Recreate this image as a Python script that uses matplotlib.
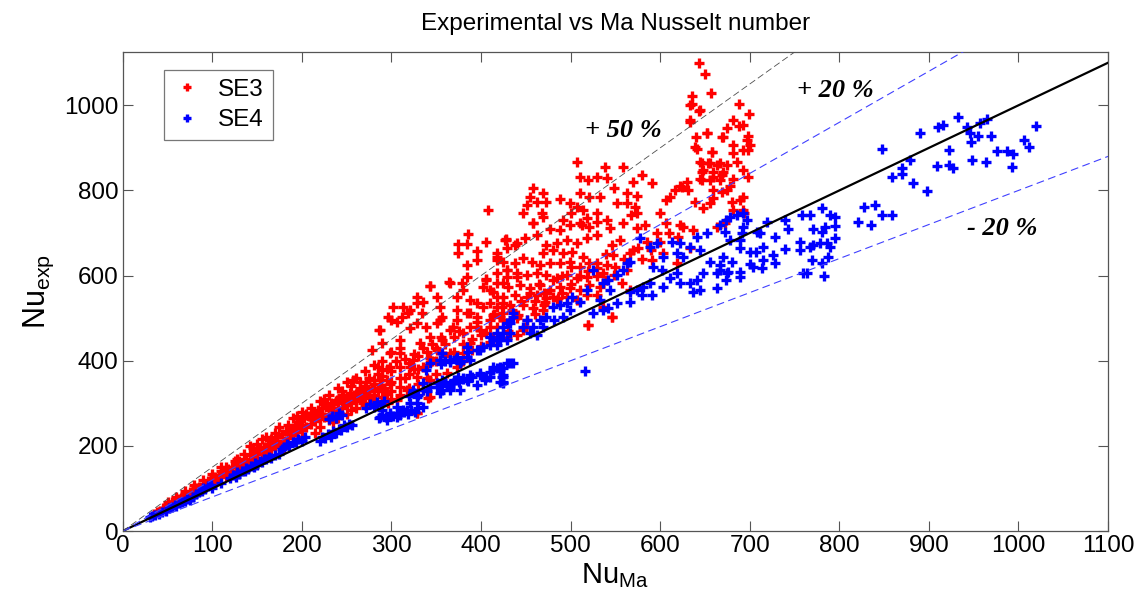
import matplotlib
matplotlib.use("Agg")
import matplotlib.pyplot as plt
import numpy as np

plt.rcParams['font.family'] = ['Liberation Sans', 'DejaVu Sans']
plt.rcParams['mathtext.fontset'] = 'custom'
plt.rcParams['mathtext.rm'] = 'Liberation Sans'
plt.rcParams['mathtext.it'] = 'Liberation Sans'

# ---------------- data: SE3 (red) ----------------
se3_band = [
    (35,40),(38,45),(42,48),(45,55),(48,52),(50,60),(53,62),(55,68),(58,70),(60,66),(62,75),(65,78),
    (68,80),(70,88),(72,84),(75,92),(78,95),(80,90),(82,100),(85,104),(88,98),(90,110),(92,106),(95,118),
    (98,112),(100,122),(102,128),(105,118),(108,132),(110,126),(112,138),(115,130),(118,145),(120,140),
    (122,150),(125,135),(128,155),(130,148),(132,160),(135,152),(138,170),(140,160),(142,178),(145,165),
    (148,185),(150,172),(152,190),(155,180),(158,198),(160,185),(162,205),(165,192),(168,210),(170,198),
    (172,220),(175,205),(178,228),(180,212),(182,235),(185,218),(188,240),(190,225),(192,250),(195,232),
    (198,258),(200,238),(202,265),(205,245),(208,270),(210,252),(212,278),(215,258),(218,285),(220,262),
    (222,290),(225,268),(228,295),(230,275),(232,300),(235,280),(238,305),(240,285),(242,310),(245,290),
    (248,300),(250,295),(252,315),(255,300),(258,320),(260,305),(262,325),(265,310),(268,300),(270,318),
    (272,330),(275,312),(278,335),(280,320),(282,305),(285,328),(288,340),(290,315),(292,335),(295,322),
    (298,345),(300,330),(100,112),(110,140),(120,130),(130,165),(140,150),(150,195),(160,175),(170,212),
    (180,195),(190,240),(200,220),(210,265),(220,245),(230,260),(240,265),(250,275),(260,290),(270,295),
    (280,300),(290,305),(300,310),(150,205),(165,215),(185,250),(205,275),(225,300),(245,320),(265,335),
    (280,345),(215,230),(235,255),(255,285),(275,330),(295,355),(310,320),(320,335),(330,345),(340,360),
    (350,370),(315,360),(325,380),(345,400),(142,200),(155,215),(175,245),(195,270),(128,170),(115,150),
]
se3_fill = [
    (200,280),(210,290),(220,305),(230,320),(240,335),(250,350),(260,360),(270,375),(280,390),(290,400),
    (300,420),(310,430),(265,350),(285,370),(305,400),(245,330),(225,310),(200,250),(210,262),(220,275),
    (230,285),(240,300),(250,310),(260,322),(270,340),(280,355),(290,365),(300,375),(310,385),(320,395),
    (330,410),(340,420),(300,350),(310,360),(320,370),(330,380),(340,390),(350,400),(360,410),(370,420),
    (350,430),(360,440),(370,455),(380,440),(390,450),(400,460),(390,425),(400,435),(410,445),(380,400),
    (255,340),(275,360),(295,380),(315,405),(335,430),(355,455),(375,470),(395,490),(415,510),(435,520),
    (445,540),(455,560),(465,580),(440,500),(430,470),(450,480),(460,510),(470,530),(480,550),(490,560),
    (500,580),(510,600),(520,610),(530,630),(540,650),(500,620),(490,600),(480,590),(470,560),(460,540),
    (185,230),(195,245),(215,270),(235,290),(255,318),(190,265),(170,230),(160,220),(145,195),(135,180),
    (125,165),(110,150),(100,135),(90,120),(80,108),(70,95),(60,80),(50,68),(285,385),(325,415),(345,440),
    (580,640),(590,660),(600,680),(610,700),(620,690),(560,640),(570,660),(550,620),(530,600),(540,590),
]
se3_mid = [
    (287,472),(278,425),(289,441),(298,418),(300,495),(302,526),(312,502),(321,519),(321,476),(309,448),
    (309,418),(290,378),(298,385),(287,354),(272,350),(257,354),(268,331),(254,324),(246,315),(239,307),
    (231,291),(321,385),(328,361),(324,401),(335,385),(343,406),(332,441),(343,455),(351,425),(357,448),
    (365,472),(373,495),(380,465),(388,441),(365,418),(354,495),(388,512),(402,526),(410,495),(418,526),
    (406,465),(395,479),(380,418),(373,385),(362,371),(343,354),(343,315),(328,277),(335,331),(317,331),
    (309,338),(306,307),(296,300),(424,512),(286,472),(296,502),(306,491),(313,526),(318,512),(328,549),
    (329,535),(335,537),(343,575),(334,512),(328,488),(339,479),(351,549),(354,526),(365,582),(357,502),
    (373,549),(380,566),(388,542),(373,519),(384,512),(395,535),(402,573),(410,566),(418,549),(424,535),
    (406,589),(418,636),(427,683),(429,613),(395,502),(388,479),(369,479),(351,488),(399,472),(410,479),
    (421,502),(429,488),(341,312),(328,277),(519,483),(546,502),
]
se3_upper = [
    (408,753),(385,697),(374,674),(374,652),(384,674),(395,657),(406,678),(428,685),(429,664),(418,643),
    (396,636),(384,624),(429,613),(440,676),(440,596),(343,575),(364,584),(384,596),(406,591),(379,582),
    (424,582),
    (458,723),(477,709),(488,706),(499,718),(510,723),(521,714),(529,695),(544,711),(558,723),(574,711),
    (583,718),(596,699),(607,723),(625,714),(428,683),(438,671),(449,688),(462,695),(473,671),(485,676),
    (496,683),(507,676),(518,688),(469,652),(480,659),(491,652),(502,655),(514,643),(418,652),(424,631),
    (438,629),(447,641),(457,631),(466,624),(477,629),(488,629),(499,631),(510,620),(521,629),(546,671),
    (555,683),(566,652),(575,664),(585,678),(547,648),(591,636),(603,652),(619,629),(563,613),(541,624),
    (529,617),(418,606),(429,596),(440,606),(451,601),(462,606),(473,601),(485,594),(496,601),(507,594),
    (518,596),(536,606),(549,601),(418,582),(430,573),(443,577),(455,570),(466,577),(477,566),(488,573),
    (499,570),(510,566),(521,577),(533,573),(557,582),(566,566),(413,561),(424,549),(438,554),(451,549),
    (462,554),(473,547),(485,542),(496,549),(507,542),(518,554),(529,554),(410,535),(423,526),(432,530),
    (447,530),(458,523),(471,537),(486,547),(536,526),(413,507),(424,495),(441,507),(451,495),(469,519),
    (546,502),(519,483),(418,479),(440,460),(447,472),(413,455),(429,453),
]
se3_top = [
    (643,1099),(650,1073),(657,1028),(636,1021),(633,1000),(643,986),(633,962),(652,936),(640,925),(669,925),
    (641,897),(658,890),(647,864),(653,864),(663,859),(647,843),(647,824),(659,831),(669,836),(631,800),
    (624,807),(617,800),(611,784),(607,777),(659,800),(656,770),(507,868),(510,831),(520,824),(529,831),
    (538,854),(541,829),(558,854),(570,821),(580,836),(591,817),(548,805),(563,793),(574,786),(510,793),
    (521,784),(533,784),(458,805),(455,784),(469,793),(473,772),(488,781),(463,772),(451,765),(447,746),
    (468,746),(469,737),(458,723),(499,770),(507,760),(501,746),(514,753),(518,735),(529,746),(530,725),
    (552,770),(563,770),(572,760),(568,742),(574,746),(600,746),(541,730),(491,730),(513,718),
    (636,1004),(644,988),(633,965),(688,1002),(699,979),(681,965),(692,953),(688,951),(675,946),(652,936),
    (698,929),(697,918),(670,925),(700,906),(681,906),(639,901),(658,890),(681,887),(692,894),(698,894),
    (644,866),(656,864),(667,864),(675,859),(686,866),(648,847),(659,843),(670,843),(692,847),(644,826),
    (656,824),(667,824),(681,828),(698,831),(630,819),(622,810),(678,810),(675,800),(669,796),(659,782),
    (692,784),(689,777),(639,772),(648,758),(680,772),(681,753),(692,753),(694,746),(622,718),(637,706),
    (663,713),(672,723),(633,664),
]

# ---------------- data: SE4 (blue) ----------------
se4_band = [
    (30,32),(33,35),(36,38),(40,40),(44,45),(48,47),(52,55),(55,56),(58,62),(60,58),(63,66),(66,68),
    (70,70),(72,75),(75,72),(78,80),(82,88),(85,92),(88,95),(90,100),(92,98),(95,105),(98,108),(100,102),
    (110,112),(120,125),(123,132),(126,128),(128,138),(130,135),(133,142),(136,140),(138,148),(140,145),
    (143,152),(146,150),(148,160),(150,155),(153,165),(156,162),(158,170),(160,168),(163,175),(166,172),
    (170,178),(174,182),(178,192),(180,198),(183,204),(186,200),(190,210),(193,208),(196,215),(200,212),
    (203,220),(220,212),(223,222),(226,218),(229,228),(232,222),(235,235),(238,230),(241,240),(244,238),
    (247,248),(250,245),(253,252),(256,250),(230,262),(234,270),(238,266),(242,278),(245,272),(272,290),
    (276,298),(280,292),(284,302),(288,296),(292,305),(286,265),(290,272),(294,268),(298,276),(302,270),
    (306,278),(310,272),(314,280),(318,276),(322,285),(326,280),(330,290),(320,318),(325,325),(330,320),
    (335,332),(340,328),(355,340),(360,350),(365,345),(370,355),(375,350),(380,358),(385,352),(355,392),
    (360,400),(365,396),(372,405),(378,400),(384,408),(388,402),
]
se4_mid = [
    (410,455),(418,448),(424,465),(402,432),(395,425),(385,420),(373,408),(365,401),(354,401),(356,418),
    (343,394),(339,378),(335,347),(324,331),(328,315),(321,300),(317,284),
    (351,347),(357,331),(365,338),(373,354),(380,359),(388,366),(399,371),(406,361),(413,385),(421,378),
    (424,361),(424,347),(343,338),(328,300),(335,291),(313,284),(306,268),(298,277),(290,284),(287,268),
    (295,261),(306,291),(351,338),(357,354),(369,347),(374,361),(384,354),(390,361),(399,366),(404,354),
    (410,361),(413,378),(421,385),(429,394),(436,394),(424,366),(421,350),(395,343),(376,331),(365,331),
    (354,324),(516,376),(432,394),(424,383),(418,383),(410,373),(423,361),(424,350),
    (384,432),(399,425),(410,437),(421,448),(418,465),(429,488),(436,512),(354,401),(365,401),(376,394),
]
se4_upper = [
    (667,718),(652,699),(641,690),(633,667),(622,676),(613,678),(596,676),(589,667),(603,643),(619,652),
    (625,643),(644,659),(656,631),(667,624),(675,606),(663,606),(648,606),(641,589),(633,582),(637,561),
    (644,566),(663,570),(619,606),(622,582),(611,594),(602,613),(592,620),(603,573),(589,582),(581,573),
    (574,566),(566,561),(591,554),(580,554),(566,537),(552,535),(542,523),(536,519),(525,512),(566,631),
    (558,613),(552,601),(542,589),(536,582),(544,566),(533,542),(525,613),(518,566),(510,537),(502,549),
    (496,535),(488,530),(480,526),(499,519),(491,502),(482,495),(473,502),(466,495),(469,479),(458,479),
    (451,495),(447,479),(455,465),(462,460),(436,502),(432,488),(424,479),(432,465),(421,455),(429,448),
    (413,448),(418,437),(577,688),(563,629),
]
se4_right = [
    (848,897),(890,934),(910,948),(916,953),(932,972),(943,948),(957,958),(965,969),(946,936),(955,929),
    (969,927),(947,913),(922,894),(976,892),(987,892),(994,885),(993,854),(1006,918),(1012,901),(1020,951),
    (964,866),(948,871),(922,859),(927,852),(909,857),(879,871),(870,852),(870,838),(859,831),(882,817),
    (898,798),(828,761),(840,765),(848,742),(859,742),(821,725),(835,720),(795,737),(795,716),(790,742),
    (781,758),(784,713),(781,702),(771,709),(795,688),(786,676),(778,676),(771,671),(767,667),(790,667),
    (756,678),(756,659),(769,636),(787,643),(781,629),(760,606),(764,606),(783,599),(767,742),(758,742),
    (739,730),(743,709),(728,690),(719,725),(739,662),(726,648),(728,629),(715,636),(715,667),(707,655),
    (700,655),(689,664),(689,683),(691,699),(678,683),(672,702),(708,702),(711,699),(704,620),(700,627),
    (689,608),(689,596),(676,608),(674,589),(667,613),(670,643),(680,631),(678,737),(686,742),(692,746),
    (697,730),(674,730),(692,713),(714,617),
]

se3 = np.array(se3_band + se3_fill + se3_mid + se3_upper + se3_top, dtype=float)
se4 = np.array(se4_band + se4_mid + se4_upper + se4_right, dtype=float)

x_ticks = list(range(0, 1101, 100))
y_ticks = list(range(0, 1001, 200))
ref_x = [0, 1100]

fig = plt.figure(figsize=(11.47, 5.99), dpi=100)
ax = fig.add_axes([0.107, 0.1135, 0.859, 0.7995])

ax.plot(se3[:, 0], se3[:, 1], linestyle='none', marker='+', ms=6.5, mew=2.4,
        color=(1, 0, 0), label='SE3', zorder=3)
ax.plot(se4[:, 0], se4[:, 1], linestyle='none', marker='+', ms=6.5, mew=2.4,
        color=(0, 0, 1), label='SE4', zorder=4)

rx = np.array(ref_x, dtype=float)
ax.plot(rx, rx, color='black', lw=1.6, zorder=5)
ax.plot(rx, 1.2 * rx, color=(0.25, 0.25, 1), lw=0.8, dashes=(7, 4), zorder=5)
ax.plot(rx, 0.8 * rx, color=(0.25, 0.25, 1), lw=0.8, dashes=(7, 4), zorder=5)
ax.plot(rx, 1.5 * rx, color=(0.3, 0.3, 0.3), lw=0.6, dashes=(8, 4), zorder=5)

ax.set_xlim(0, 1100)
ax.set_ylim(0, 1125)
ax.set_xticks(x_ticks)
ax.set_yticks(y_ticks)
ax.tick_params(direction='in', length=7, width=0.8, top=True, right=True,
               labelsize=17.5, color='#555555', pad=3)
for s in ax.spines.values():
    s.set_color('#555555')
    s.set_linewidth(0.9)

ax.set_title('Experimental vs Ma Nusselt number', fontsize=17.5, pad=16)
ax.set_xlabel(r'$\mathrm{Nu}_{\mathrm{Ma}}$', fontsize=21, labelpad=3)
ax.set_ylabel(r'$\mathrm{Nu}_{\mathrm{exp}}$', fontsize=22, labelpad=6)

ann_font = dict(family=['Liberation Serif', 'DejaVu Serif'], weight='bold', style='italic', fontsize=19)
ax.text(516, 941, '+ 50 %', va='center', ha='left', **ann_font)
ax.text(753, 1035, '+ 20 %', va='center', ha='left', **ann_font)
ax.text(943, 711, '- 20 %', va='center', ha='left', **ann_font)

leg = ax.legend(loc='upper left', bbox_to_anchor=(0.0416, 0.962), fontsize=17.5,
                frameon=True, fancybox=False, borderpad=0.35, borderaxespad=0,
                handlelength=1.2, handletextpad=0.7, labelspacing=0.35, markerscale=0.8)
leg.get_frame().set_edgecolor('#555555')
leg.get_frame().set_linewidth(0.9)

fig.savefig('out.png', dpi=100)
